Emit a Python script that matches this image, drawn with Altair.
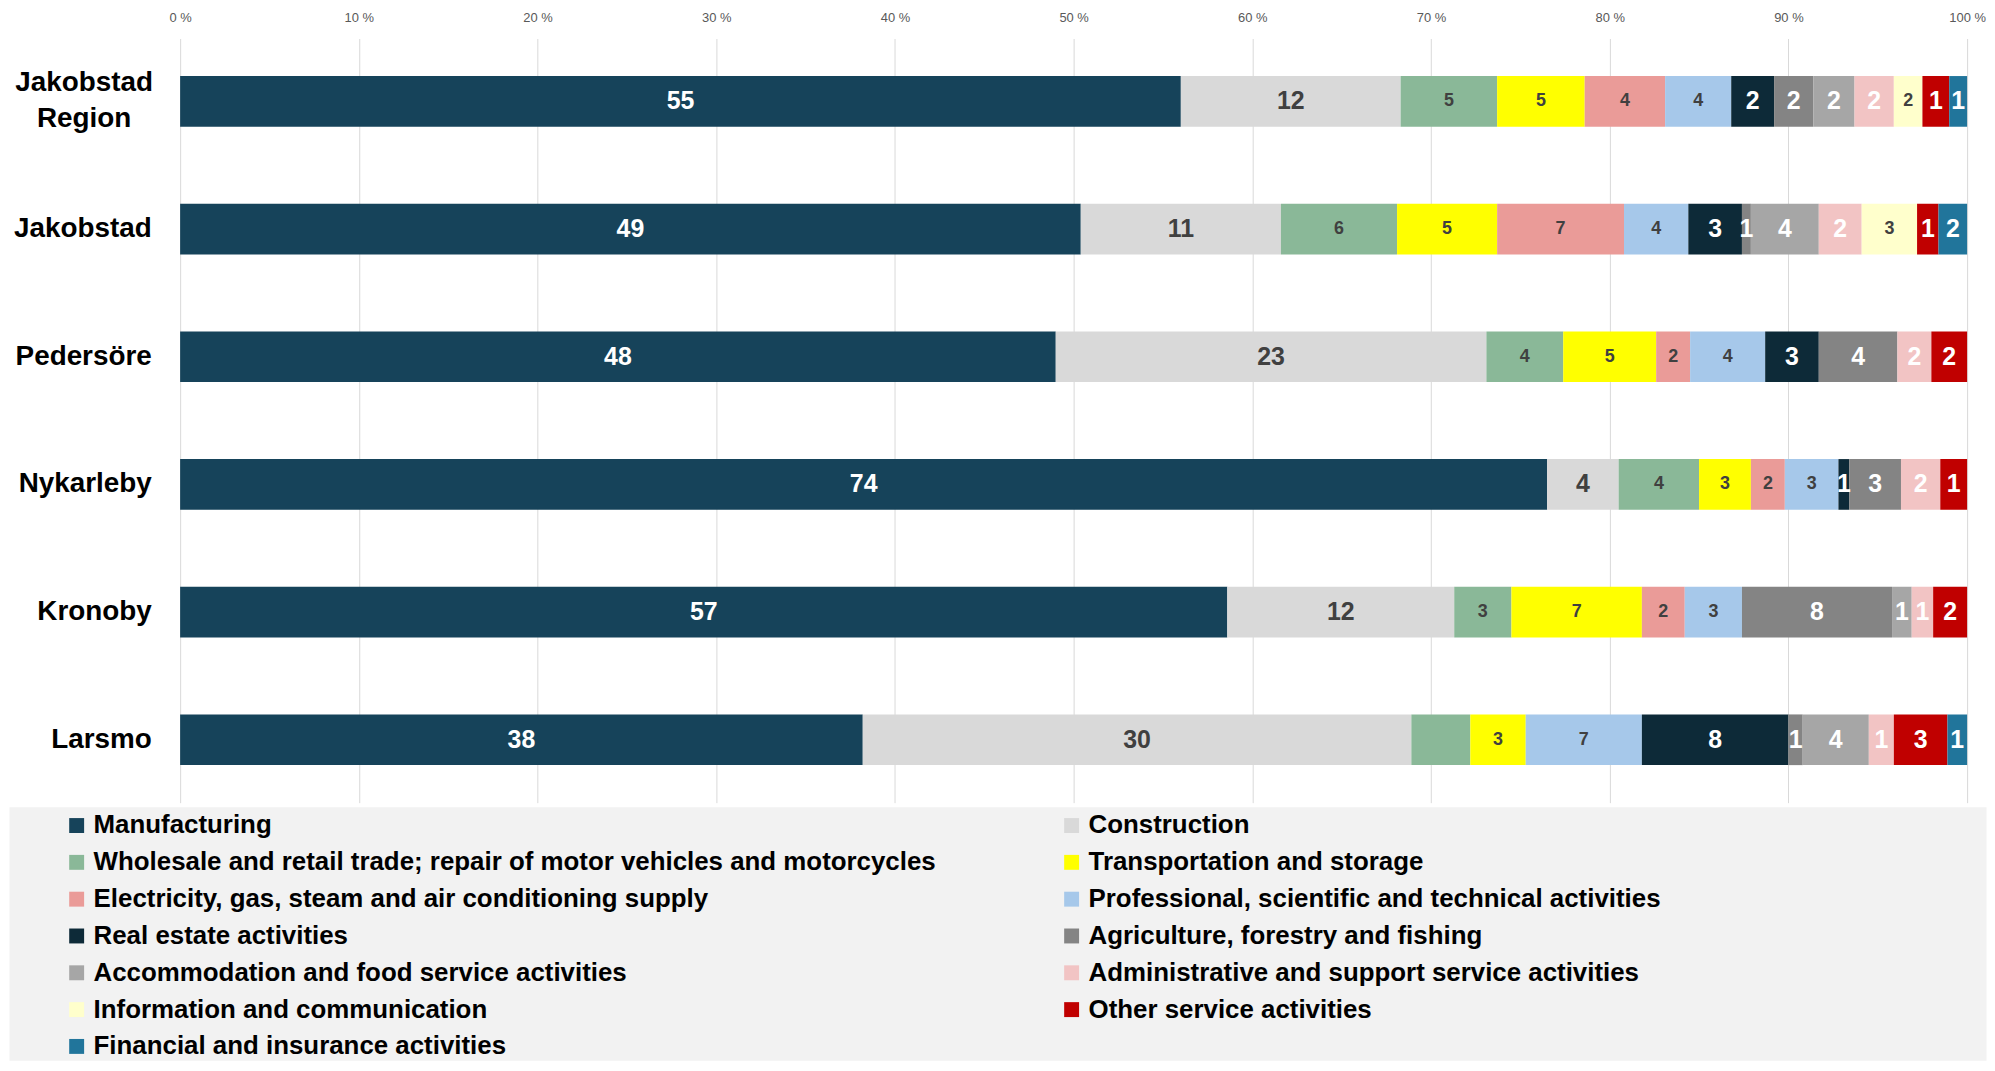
import altair as alt
import pandas as pd

regions = ["Jakobstad Region", "Jakobstad", "Pedersöre", "Nykarleby", "Kronoby", "Larsmo"]

series = [
    "Manufacturing",
    "Construction",
    "Wholesale and retail trade; repair of motor vehicles and motorcycles",
    "Transportation and storage",
    "Electricity, gas, steam and air conditioning supply",
    "Professional, scientific and technical activities",
    "Real estate activities",
    "Agriculture, forestry and fishing",
    "Accommodation and food service activities",
    "Administrative and support service activities",
    "Information and communication",
    "Other service activities",
    "Financial and insurance activities",
]

colors = ["#16435A", "#D9D9D9", "#8AB898", "#FFFF00", "#EA9B98", "#A6C8EA", "#0D2A38",
          "#848484", "#A6A6A6", "#F2C4C4", "#FFFFCC", "#C00000", "#21759B"]

# bar shares (%) per region, in the order of `regions`
manufacturing  = [56.0, 50.4, 49.0, 76.5, 58.6, 38.2]
construction   = [12.3, 11.2, 24.1, 4.0, 12.7, 30.7]
wholesale      = [5.4, 6.5, 4.3, 4.5, 3.2, 3.3]
transportation = [4.9, 5.6, 5.2, 2.9, 7.3, 3.1]
electricity    = [4.5, 7.1, 1.9, 1.9, 2.4, 0.0]
professional   = [3.7, 3.6, 4.2, 3.0, 3.2, 6.5]
real_estate    = [2.4, 3.0, 3.0, 0.6, 0.0, 8.2]
agriculture    = [2.2, 0.5, 4.4, 2.9, 8.4, 0.8]
accommodation  = [2.3, 3.8, 0.0, 0.0, 1.1, 3.7]
administrative = [2.2, 2.4, 1.9, 2.2, 1.2, 1.4]
information    = [1.6, 3.1, 0.0, 0.0, 0.0, 0.0]
other_service  = [1.5, 1.2, 2.0, 1.5, 1.9, 3.0]
financial      = [1.0, 1.6, 0.0, 0.0, 0.0, 1.1]

# data labels shown on the bars
lab_manufacturing  = ["55", "49", "48", "74", "57", "38"]
lab_construction   = ["12", "11", "23", "4", "12", "30"]
lab_wholesale      = ["5", "6", "4", "4", "3", ""]
lab_transportation = ["5", "5", "5", "3", "7", "3"]
lab_electricity    = ["4", "7", "2", "2", "2", ""]
lab_professional   = ["4", "4", "4", "3", "3", "7"]
lab_real_estate    = ["2", "3", "3", "1", "", "8"]
lab_agriculture    = ["2", "1", "4", "3", "8", "1"]
lab_accommodation  = ["2", "4", "", "", "1", "4"]
lab_administrative = ["2", "2", "2", "2", "1", "1"]
lab_information    = ["2", "3", "", "", "", ""]
lab_other_service  = ["1", "1", "2", "1", "2", "3"]
lab_financial      = ["1", "2", "", "", "", "1"]

shares = [manufacturing, construction, wholesale, transportation, electricity, professional,
          real_estate, agriculture, accommodation, administrative, information, other_service, financial]
labels = [lab_manufacturing, lab_construction, lab_wholesale, lab_transportation, lab_electricity,
          lab_professional, lab_real_estate, lab_agriculture, lab_accommodation, lab_administrative,
          lab_information, lab_other_service, lab_financial]

dark_text_series = [series[1], series[2], series[3], series[4], series[5], series[10]]
small_text_series = [series[2], series[3], series[4], series[5], series[10]]

# legend is filled column by column: put even-indexed series in the left column
legend_order = list(range(0, len(series), 2)) + list(range(1, len(series), 2))
legend_domain = [series[i] for i in legend_order]
legend_range = [colors[i] for i in legend_order]

rows = []
for si, (name, vals, labs) in enumerate(zip(series, shares, labels)):
    for ri, region in enumerate(regions):
        rows.append({"region": region, "series": name, "order": si,
                     "share": vals[ri], "label": labs[ri]})
df = pd.DataFrame(rows)

FONT = "Liberation Sans"
TWO_LINE = "datum.label == 'Jakobstad Region'"
LEFT = 172          # room for the category labels inside the view
PLOT_W = 1796       # width of the 0-100 % span

base = alt.Chart(df).transform_filter("datum.share > 0").transform_stack(
    stack="share", groupby=["region"], sort=[alt.SortField("order", order="ascending")],
    as_=["x0", "x1"], offset="normalize"
).transform_calculate(mid="(datum.x0 + datum.x1) / 2")

xscale = alt.Scale(domain=[0, 1], nice=False, zero=True, range=[LEFT, LEFT + PLOT_W])

y_enc = alt.Y(
    "region:N", sort=regions,
    scale=alt.Scale(paddingInner=0.603, paddingOuter=0.294),
    axis=alt.Axis(
        title=None, domain=False, ticks=False, offset=-LEFT, labelFont=FONT, labelFontSize=28,
        labelFontWeight="bold", labelColor="#000000", labelLineHeight=36,
        labelAlign={"condition": {"test": TWO_LINE, "value": "center"}, "value": "right"},
        labelPadding={"condition": {"test": TWO_LINE, "value": 97}, "value": 29},
        labelOffset={"condition": {"test": TWO_LINE, "value": -18}, "value": 0},
        labelLimit=400,
        labelExpr=TWO_LINE + " ? ['Jakobstad', 'Region'] : datum.label",
    ),
)

bars = base.mark_bar().encode(
    x=alt.X(
        "x0:Q", scale=xscale,
        axis=alt.Axis(
            orient="top", values=[0, 0.1, 0.2, 0.3, 0.4, 0.5, 0.6, 0.7, 0.8, 0.9, 1.0],
            labelExpr="round(datum.value * 100) + ' %'", grid=True, gridColor="#D9D9D9",
            gridWidth=1, domain=False, ticks=False, labelFont=FONT, labelFontSize=13,
            labelColor="#595959", labelPadding=14, labelFlush=False,
            minExtent=28, maxExtent=28, title=None,
        ),
    ),
    x2="x1:Q",
    y=y_enc,
    color=alt.Color("series:N", scale=alt.Scale(domain=series, range=colors), legend=None),
)

text = base.mark_text(font=FONT, fontWeight="bold", baseline="middle", align="center").encode(
    x=alt.X("mid:Q", scale=xscale),
    y=alt.Y("region:N", sort=regions),
    text="label:N",
    color=alt.condition(alt.FieldOneOfPredicate(field="series", oneOf=dark_text_series),
                        alt.value("#404040"), alt.value("#FFFFFF")),
    size=alt.condition(alt.FieldOneOfPredicate(field="series", oneOf=small_text_series),
                       alt.value(18), alt.value(25)),
)

top = alt.layer(bars, text).properties(width=LEFT + PLOT_W, height=768)

legend_panel = alt.Chart(pd.DataFrame({"series": series})).transform_filter("false").mark_bar(
    opacity=1
).encode(
    color=alt.Color(
        "series:N", scale=alt.Scale(domain=legend_domain, range=legend_range),
        legend=alt.Legend(
            orient="none", legendX=55, legendY=6, columns=2, columnPadding=123, rowPadding=11,
            symbolType="square", symbolSize=225, symbolStrokeWidth=0, labelFont=FONT,
            labelFontSize=26, labelFontWeight="bold", labelColor="#000000", labelOffset=4,
            labelLimit=2000, title=None, padding=0,
        ),
    )
).properties(width=1987, height=255, view=alt.ViewBackground(fill="#F2F2F2", stroke="transparent"))

chart = alt.vconcat(top, legend_panel, spacing=3).resolve_scale(
    color="independent"
).resolve_legend(color="independent").configure_view(strokeWidth=0).properties(
    padding=0, background="#FFFFFF"
)

chart.save("out.html", embed_options={"renderer": "svg", "actions": False})
